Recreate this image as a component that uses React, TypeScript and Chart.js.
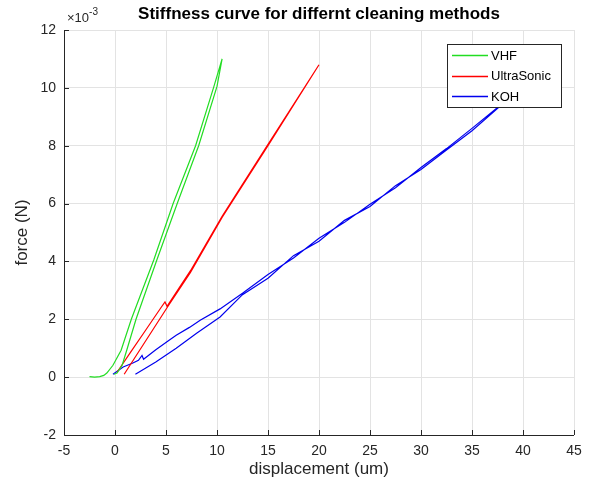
import React, { useEffect, useRef } from 'react';
import { Chart, registerables } from 'chart.js';
Chart.register(...registerables);

const titleText = 'Stiffness curve for differnt cleaning methods';
const xLabel = 'displacement (um)';
const yLabel = 'force (N)';
const seriesNames = ['VHF', 'UltraSonic', 'KOH'];
const seriesColors = ['#22dd22', '#ff0000', '#0000ee'];

// force values are in units of 1e-3 N (axis exponent label ×10^-3)
const vhfX = [-2.5, -2.0, -1.5, -1.1, -0.8, -0.2, 0.6, 1.6, 3.8, 5.7, 7.9, 9.7, 10.5, 10.0, 8.2, 6.1, 4.1, 2.06, 1.15, 0.7, 0.2, -0.1];
const vhfY = [0.02, 0.0, 0.02, 0.06, 0.14, 0.41, 0.93, 2.0, 4.05, 6.0, 8.0, 10.05, 11.0, 10.05, 8.0, 6.0, 4.05, 2.0, 0.93, 0.41, 0.14, 0.1];

const usX = [0.2, 1.5, 3.0, 4.5, 4.9, 5.1, 7.4, 10.5, 15.0, 20.0, 15.0, 10.5, 7.4, 5.1, 3.0, 0.9];
const usY = [0.17, 0.85, 1.62, 2.4, 2.6, 2.45, 3.68, 5.56, 8.05, 10.8, 8.0, 5.52, 3.62, 2.4, 1.25, 0.1];

const kohX = [-0.2, 0.8, 1.7, 2.3, 2.65, 2.8, 4.0, 5.2, 6.0, 7.3, 8.35, 10.3, 12.5, 15.0, 17.5, 20.0, 22.5, 25.0, 27.5, 30.0, 32.5, 35.0, 39.0,
  35.0, 32.5, 30.0, 27.5, 25.0, 22.5, 20.0, 17.5, 15.0, 12.5, 10.3, 8.0, 6.0, 4.0, 2.0];
const kohY = [0.1, 0.35, 0.48, 0.58, 0.75, 0.62, 0.95, 1.25, 1.45, 1.72, 1.97, 2.36, 2.9, 3.55, 4.12, 4.8, 5.35, 5.98, 6.55, 7.25, 7.9, 8.6, 9.75,
  8.52, 7.85, 7.18, 6.62, 5.9, 5.42, 4.7, 4.2, 3.42, 2.85, 2.08, 1.52, 1.0, 0.52, 0.1];

const xTicks = [-5, 0, 5, 10, 15, 20, 25, 30, 35, 40, 45];
const yTicks = [-2, 0, 2, 4, 6, 8, 10, 12];

const FONT = 'Arial, "Liberation Sans", Helvetica, sans-serif';
const TXT = '#262626';

const zip = (xs: number[], ys: number[]) => xs.map((x, i) => ({ x, y: ys[i] }));

const decorPlugin = {
  id: 'decor',
  afterDraw(chart: any) {
    const { ctx, chartArea } = chart;
    const { left, right, top, bottom } = chartArea;
    const xs = chart.scales.x;
    const ys = chart.scales.y;
    ctx.save();
    // axis lines
    ctx.strokeStyle = '#262626';
    ctx.lineWidth = 1;
    ctx.beginPath();
    ctx.moveTo(left + 0.5, top);
    ctx.lineTo(left + 0.5, bottom + 0.5);
    ctx.lineTo(right, bottom + 0.5);
    ctx.stroke();
    // inward ticks
    ctx.beginPath();
    xTicks.forEach((t) => {
      const px = Math.round(xs.getPixelForValue(t)) + 0.5;
      ctx.moveTo(px, bottom);
      ctx.lineTo(px, bottom - 5);
    });
    yTicks.forEach((t) => {
      const py = Math.round(ys.getPixelForValue(t)) + 0.5;
      ctx.moveTo(left, py);
      ctx.lineTo(left + 5, py);
    });
    ctx.stroke();

    // title
    ctx.fillStyle = '#000';
    ctx.font = `bold 17px ${FONT}`;
    ctx.textAlign = 'center';
    ctx.textBaseline = 'middle';
    ctx.fillText(titleText, (left + right) / 2, 14);

    // exponent
    ctx.fillStyle = TXT;
    ctx.textAlign = 'left';
    ctx.font = `13px ${FONT}`;
    ctx.fillText('\u00d710', left + 3, 18);
    const w = ctx.measureText('\u00d710').width;
    ctx.font = `10px ${FONT}`;
    ctx.fillText('-3', left + 3 + w, 12);

    // axis titles
    ctx.font = `17px ${FONT}`;
    ctx.textAlign = 'center';
    ctx.fillText(xLabel, (left + right) / 2, 469);
    ctx.save();
    ctx.translate(22, (top + bottom) / 2);
    ctx.rotate(-Math.PI / 2);
    ctx.fillText(yLabel, 0, 0);
    ctx.restore();

    // legend
    const lx = 447, ly = 44, lw = 114, lh = 63;
    ctx.fillStyle = '#fff';
    ctx.fillRect(lx, ly, lw, lh);
    ctx.strokeStyle = '#262626';
    ctx.lineWidth = 1;
    ctx.strokeRect(lx + 0.5, ly + 0.5, lw, lh);
    ctx.font = `13px ${FONT}`;
    ctx.textAlign = 'left';
    seriesNames.forEach((n, i) => {
      const cy = 55 + i * 20.5;
      ctx.strokeStyle = seriesColors[i];
      ctx.lineWidth = 1.3;
      ctx.beginPath();
      ctx.moveTo(452, Math.round(cy) + 0.5);
      ctx.lineTo(488, Math.round(cy) + 0.5);
      ctx.stroke();
      ctx.fillStyle = '#000';
      ctx.fillText(n, 491, cy + 1);
    });
    ctx.restore();
  },
};

export default function App() {
  const ref = useRef<HTMLCanvasElement>(null);
  useEffect(() => {
    document.body.style.margin = '0';
    const chart = new Chart(ref.current!, {
      type: 'scatter',
      data: {
        datasets: [
          { label: seriesNames[0], data: zip(vhfX, vhfY), borderColor: seriesColors[0], showLine: true, pointRadius: 0, borderWidth: 1.2, tension: 0 },
          { label: seriesNames[1], data: zip(usX, usY), borderColor: seriesColors[1], showLine: true, pointRadius: 0, borderWidth: 1.2, tension: 0 },
          { label: seriesNames[2], data: zip(kohX, kohY), borderColor: seriesColors[2], showLine: true, pointRadius: 0, borderWidth: 1.2, tension: 0 },
        ],
      },
      options: {
        animation: false,
        responsive: false,
        layout: { padding: { top: 30, right: 24, left: 0, bottom: 0 } },
        plugins: { legend: { display: false }, tooltip: { enabled: false }, title: { display: false } },
        scales: {
          x: {
            type: 'linear', min: -5, max: 45,
            afterBuildTicks: (s: any) => { s.ticks = xTicks.map((v) => ({ value: v })); },
            afterFit: (s: any) => { s.height = 54; },
            grid: { color: '#e3e3e3', drawTicks: false },
            border: { display: false },
            ticks: { padding: 8, color: TXT, font: { size: 14, family: FONT }, maxRotation: 0 },
          },
          y: {
            type: 'linear', min: -2, max: 12,
            afterBuildTicks: (s: any) => { s.ticks = yTicks.map((v) => ({ value: v })); },
            afterFit: (s: any) => { s.width = 64; },
            grid: { color: '#e3e3e3', drawTicks: false },
            border: { display: false },
            ticks: { padding: 8, color: TXT, font: { size: 14, family: FONT } },
          },
        },
      },
      plugins: [decorPlugin],
    });
    return () => chart.destroy();
  }, []);
  return (
    <div style={{ width: 598, height: 489, background: '#fff' }}>
      <canvas ref={ref} width={598} height={489} />
    </div>
  );
}
